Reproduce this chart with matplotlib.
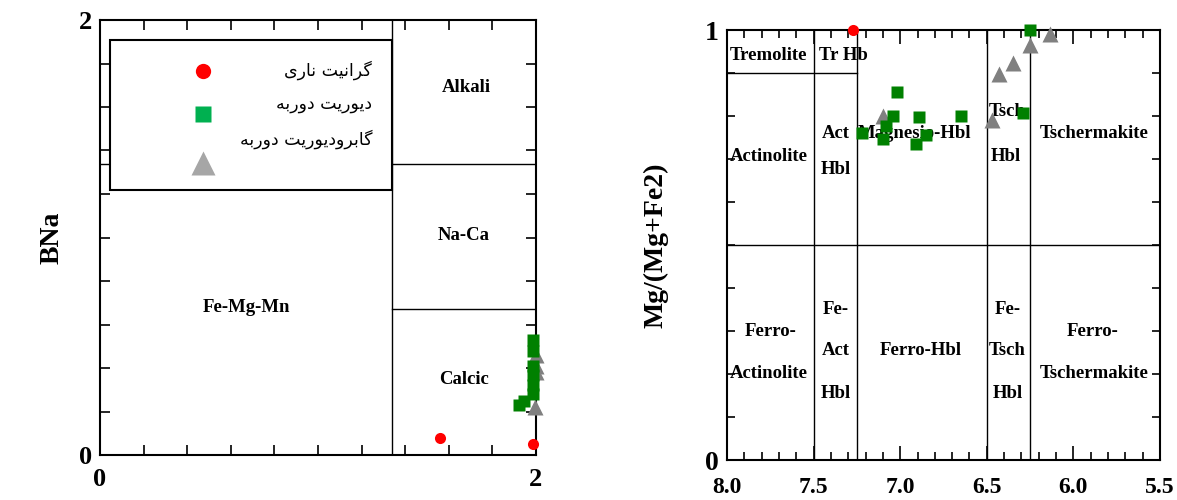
import matplotlib
matplotlib.use("Agg")
import matplotlib.pyplot as plt
from matplotlib.patches import Rectangle
import numpy as np

# ---------------- data ----------------
series_names = ["گرانیت ناری", "دیوریت دوربه", "گابرودیوریت دوربه"]

# left panel: (Ca+Na)B vs BNa
granite_x_l = [1.56, 1.985]
granite_y_l = [0.08, 0.05]
diorite_x_l = [1.985, 1.985, 1.985, 1.985, 1.985, 1.985, 1.945, 1.92]
diorite_y_l = [0.53, 0.48, 0.41, 0.37, 0.32, 0.28, 0.25, 0.23]
gabbro_x_l = [2.0, 2.0, 2.0, 1.995]
gabbro_y_l = [0.46, 0.41, 0.38, 0.22]

# right panel: Si vs Mg/(Mg+Fe2)
granite_si = [7.27]
granite_mg = [1.0]
diorite_si = [6.25, 7.02, 7.04, 6.89, 6.65, 6.29, 7.22, 7.08, 7.10, 6.85, 6.91]
diorite_mg = [1.0, 0.856, 0.80, 0.797, 0.80, 0.806, 0.76, 0.777, 0.746, 0.756, 0.735]
gabbro_si = [6.135, 6.25, 6.35, 6.43, 6.47, 7.10]
gabbro_mg = [0.99, 0.965, 0.923, 0.898, 0.79, 0.80]

left_regions = [("Alkali", 1.68, 1.69), ("Na-Ca", 1.67, 1.01),
                ("Calcic", 1.67, 0.345), ("Fe-Mg-Mn", 0.67, 0.68)]
right_regions = [
    ("Tremolite", 7.76, 0.94), ("Tr Hb", 7.33, 0.94),
    ("Actinolite", 7.76, 0.705), ("Act", 7.37, 0.76), ("Hbl", 7.37, 0.675),
    ("Magnesio-Hbl", 6.92, 0.76), ("Tsch", 6.38, 0.81), ("Hbl", 6.39, 0.705),
    ("Tschermakite", 5.88, 0.76),
    ("Ferro-", 7.75, 0.30), ("Actinolite", 7.76, 0.20),
    ("Fe-", 7.37, 0.35), ("Act", 7.37, 0.255), ("Hbl", 7.37, 0.155),
    ("Ferro-Hbl", 6.88, 0.255),
    ("Fe-", 6.38, 0.35), ("Tsch", 6.38, 0.255), ("Hbl", 6.38, 0.155),
    ("Ferro-", 5.89, 0.30), ("Tschermakite", 5.88, 0.20),
]

# ---------------- simple Persian shaping ----------------
FORMS = {
    "گ": (0xFB92, 0xFB93, 0xFB94, 0xFB95),
    "ر": (0xFEAD, 0xFEAE, None, None),
    "ا": (0xFE8D, 0xFE8E, None, None),
    "ن": (0xFEE5, 0xFEE6, 0xFEE7, 0xFEE8),
    "ی": (0xFBFC, 0xFBFD, 0xFBFE, 0xFBFF),
    "ت": (0xFE95, 0xFE96, 0xFE97, 0xFE98),
    "د": (0xFEA9, 0xFEAA, None, None),
    "و": (0xFEED, 0xFEEE, None, None),
    "ب": (0xFE8F, 0xFE90, 0xFE91, 0xFE92),
    "ه": (0xFEE9, 0xFEEA, 0xFEEB, 0xFEEC),
}


def shape(text):
    out = []
    n = len(text)
    for i, ch in enumerate(text):
        if ch not in FORMS:
            out.append(ch)
            continue
        iso, fin, ini, med = FORMS[ch]
        prev = text[i - 1] if i > 0 else None
        nxt = text[i + 1] if i < n - 1 else None
        jp = prev in FORMS and FORMS[prev][2] is not None
        jn = nxt in FORMS and ini is not None
        if jp and jn:
            cp = med
        elif jp:
            cp = fin
        elif jn:
            cp = ini
        else:
            cp = iso
        out.append(chr(cp))
    return "".join(reversed(out))


SERIF = "Liberation Serif"
plt.rcParams["font.family"] = ["DejaVu Sans"]

fig = plt.figure(figsize=(11.77, 5.0), dpi=100)
axL = fig.add_axes([100 / 1177, 1 - 455 / 500, 436 / 1177, 435 / 500])
axR = fig.add_axes([727 / 1177, 1 - 460 / 500, 433 / 1177, 430 / 500])

GREEN = "#008000"
GRAY = "#808080"
RED = "#ff0000"
LABEL_FS = 13.5

for ax in (axL, axR):
    for s in ax.spines.values():
        s.set_linewidth(1.5)
    ax.tick_params(which="both", direction="in", top=True, right=True,
                   width=1.2, pad=6)
    ax.tick_params(which="major", length=7)
    ax.tick_params(which="minor", length=7)

# ---------------- left panel ----------------
axL.set_xlim(0, 2)
axL.set_ylim(0, 2)
axL.set_xticks([0, 2])
axL.set_yticks([0, 2])
axL.set_xticks(np.arange(0.2, 2.0, 0.2), minor=True)
axL.set_yticks(np.arange(0.2, 2.0, 0.2), minor=True)
axL.tick_params(axis="x", pad=9)
for lab in axL.get_xticklabels() + axL.get_yticklabels():
    lab.set_fontfamily(SERIF)
    lab.set_fontweight("bold")
    lab.set_fontsize(19)
axL.set_ylabel("BNa", fontfamily=SERIF, fontweight="bold", fontsize=20,
               labelpad=10)

axL.plot([0, 2], [1.34, 1.34], color="black", lw=1.0, zorder=1)
axL.plot([1.34, 2], [0.67, 0.67], color="black", lw=1.0, zorder=1)
axL.plot([1.34, 1.34], [0, 2], color="black", lw=1.0, zorder=1)

for t, x, y in left_regions:
    axL.text(x, y, t, ha="center", va="center", fontfamily=SERIF,
             fontweight="bold", fontsize=LABEL_FS, zorder=2)

axL.plot(gabbro_x_l, gabbro_y_l, "^", color=GRAY, ms=11, mec="none",
         zorder=4, clip_on=False)
axL.plot(diorite_x_l, diorite_y_l, "s", color=GREEN, ms=8.5, mec="none",
         zorder=5, clip_on=False)
axL.plot(granite_x_l, granite_y_l, "o", color=RED, ms=8, mec="none",
         zorder=6, clip_on=False)

# legend box
axL.add_patch(Rectangle((0.023, 0.609), 0.647, 0.345, transform=axL.transAxes,
                        facecolor="white", edgecolor="black", lw=1.5, zorder=3))
leg_markers = [("o", RED, 11, 0.883), ("s", "#00b050", 11, 0.784),
               ("^", "#a6a6a6", 17, 0.672)]
leg_text_y = [0.885, 0.807, 0.726]
for (mk, col, ms, my), name, ty in zip(leg_markers, series_names, leg_text_y):
    axL.plot([0.236], [my], mk, color=col, ms=ms, mec="none",
             transform=axL.transAxes, zorder=4)
    axL.text(0.624, ty, shape(name), ha="right", va="center", fontsize=12.5,
             fontfamily=["DejaVu Sans"], transform=axL.transAxes, zorder=4)

# ---------------- right panel ----------------
axR.set_xlim(8.0, 5.5)
axR.set_ylim(0, 1)
axR.set_xticks([8.0, 7.5, 7.0, 6.5, 6.0, 5.5])
axR.set_xticklabels(["8.0", "7.5", "7.0", "6.5", "6.0", "5.5"])
axR.set_xticks(np.arange(5.6, 8.0, 0.1), minor=True)
axR.set_yticks([0, 1])
axR.set_yticks(np.arange(0.1, 1.0, 0.1), minor=True)
axR.tick_params(which="minor", length=6)
axR.tick_params(which="major", length=10)
axR.tick_params(axis="x", pad=12)
for lab in axR.get_xticklabels():
    lab.set_fontfamily(SERIF)
    lab.set_fontweight("bold")
    lab.set_fontsize(17)
for lab in axR.get_yticklabels():
    lab.set_fontfamily(SERIF)
    lab.set_fontweight("bold")
    lab.set_fontsize(20)
axR.set_ylabel("Mg/(Mg+Fe2)", fontfamily=SERIF, fontweight="bold",
               fontsize=20, labelpad=26)

for xv in [7.5, 7.25, 6.5, 6.25]:
    axR.plot([xv, xv], [0, 1], color="black", lw=1.0, zorder=1)
axR.plot([8.0, 5.5], [0.5, 0.5], color="black", lw=1.0, zorder=1)
axR.plot([8.0, 7.25], [0.9, 0.9], color="black", lw=1.0, zorder=1)

for t, x, y in right_regions:
    axR.text(x, y, t, ha="center", va="center", fontfamily=SERIF,
             fontweight="bold", fontsize=LABEL_FS, zorder=2)

axR.plot(gabbro_si, gabbro_mg, "^", color=GRAY, ms=12, mec="none",
         zorder=4, clip_on=False)
axR.plot(diorite_si, diorite_mg, "s", color=GREEN, ms=8.5, mec="none",
         zorder=5, clip_on=False)
axR.plot(granite_si, granite_mg, "o", color=RED, ms=8, mec="none",
         zorder=6, clip_on=False)

fig.savefig("out.png", dpi=100)
